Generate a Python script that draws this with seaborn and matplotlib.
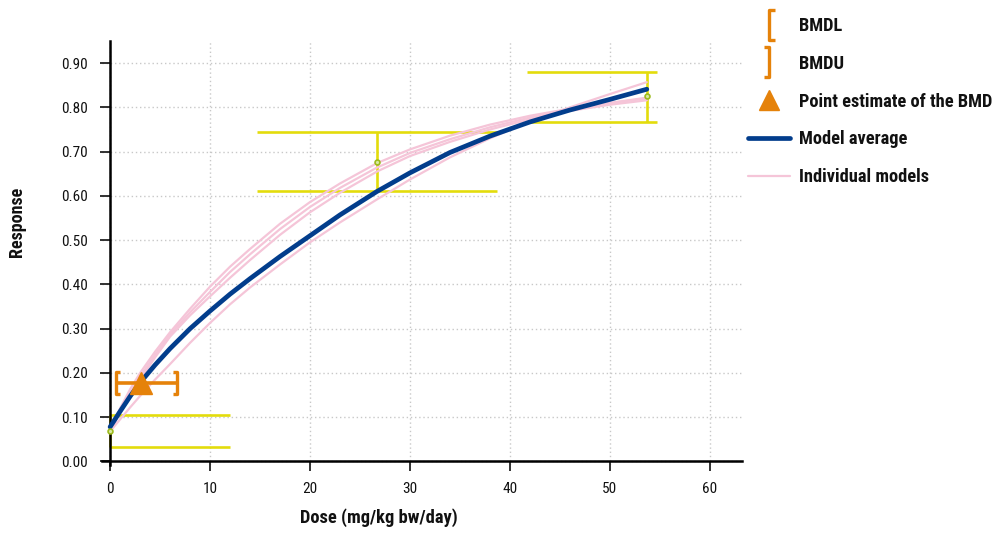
import numpy as np
import pandas as pd
import matplotlib
matplotlib.use("Agg")
import matplotlib.pyplot as plt
from matplotlib import font_manager
from matplotlib.lines import Line2D
from matplotlib.path import Path
import seaborn as sns

# ---- data -------------------------------------------------------------
dose_grid = [0, 1, 2, 3, 4.5, 6, 8, 10, 12, 14, 17, 20, 23, 26.7, 30, 34, 38, 42, 46, 50, 53.7]

model_average = [0.078, 0.113, 0.147, 0.178, 0.218, 0.255, 0.300, 0.340, 0.378, 0.413, 0.463,
                 0.510, 0.557, 0.610, 0.652, 0.698, 0.735, 0.767, 0.794, 0.818, 0.841]

model_a = [0.068, 0.120, 0.163, 0.200, 0.248, 0.292, 0.345, 0.395, 0.440, 0.480, 0.537,
           0.586, 0.628, 0.674, 0.705, 0.736, 0.761, 0.781, 0.797, 0.810, 0.820]
model_b = [0.065, 0.113, 0.155, 0.192, 0.241, 0.287, 0.337, 0.383, 0.428, 0.468, 0.525,
           0.575, 0.618, 0.664, 0.697, 0.728, 0.755, 0.777, 0.795, 0.810, 0.822]
model_c = [0.072, 0.112, 0.150, 0.185, 0.235, 0.282, 0.330, 0.373, 0.415, 0.455, 0.512,
           0.563, 0.607, 0.655, 0.690, 0.722, 0.750, 0.773, 0.792, 0.806, 0.816]
model_d = [0.068, 0.095, 0.122, 0.148, 0.185, 0.220, 0.268, 0.313, 0.355, 0.393, 0.445,
           0.495, 0.540, 0.592, 0.637, 0.687, 0.730, 0.768, 0.800, 0.830, 0.857]

obs_dose = [0, 26.7, 53.7]
obs_mean = [0.068, 0.676, 0.826]
obs_lower = [0.033, 0.611, 0.768]
obs_upper = [0.106, 0.744, 0.880]

bmd = 3.1
bmdl = 0.6
bmdu = 6.65
bmr_response = 0.177

x_ticks = [0, 10, 20, 30, 40, 50, 60]
y_ticks = [0.0, 0.1, 0.2, 0.3, 0.4, 0.5, 0.6, 0.7, 0.8, 0.9]

legend_labels = ["BMDL", "BMDU", "Point estimate of the BMD", "Model average", "Individual models"]

# ---- style --------------------------------------------------------------
sns.set_theme(style="white")

# prefer a narrow sans face when one is installed
installed = {f.name for f in font_manager.fontManager.ttflist}
narrow = [n for n in ("Roboto Condensed", "Liberation Sans Narrow", "Open Sans Condensed",
                      "Arial Narrow", "DejaVu Sans Condensed", "Noto Sans Condensed")
          if n in installed]
dejavu_cond = any(f.name == "DejaVu Sans" and "condensed" in str(f.stretch)
                  for f in font_manager.fontManager.ttflist)
if narrow:
    plt.rcParams["font.family"] = [narrow[0], "DejaVu Sans"]
elif dejavu_cond:
    plt.rcParams["font.family"] = ["DejaVu Sans"]
    plt.rcParams["font.stretch"] = "condensed"
else:
    plt.rcParams["font.family"] = ["Roboto", "DejaVu Sans"]

NAVY = "#023d8c"
PINK = "#f5c5d8"
ORANGE = "#e5820a"
YELLOW = "#e3dc0c"
GREEN = "#9cba1c"
TEXT = "#111111"

fig = plt.figure(figsize=(10.01, 5.33), dpi=100)
ax = fig.add_axes([0.102, 0.1276, 0.639, 0.7955])

# individual model fits
models = pd.DataFrame({
    "dose": dose_grid * 4,
    "response": model_a + model_b + model_c + model_d,
    "model": ["a"] * len(dose_grid) + ["b"] * len(dose_grid)
             + ["c"] * len(dose_grid) + ["d"] * len(dose_grid),
})
sns.lineplot(data=models, x="dose", y="response", units="model", estimator=None,
             color=PINK, linewidth=1.6, ax=ax, zorder=3, legend=False)

# model average
avg = pd.DataFrame({"dose": dose_grid, "response": model_average})
sns.lineplot(data=avg, x="dose", y="response", color=NAVY, linewidth=3.4,
             ax=ax, zorder=4, legend=False)

# observed group means with confidence bars
cap_half = 12
cap_lo, cap_hi = 0, 54.7
for d, lo, hi in zip(obs_dose, obs_lower, obs_upper):
    ax.vlines(d, lo, hi, color=YELLOW, linewidth=1.9, zorder=2)
    xl, xr = max(d - cap_half, cap_lo), min(d + cap_half, cap_hi)
    ax.hlines([lo, hi], xl, xr, color=YELLOW, linewidth=1.9, zorder=2)
ax.plot(obs_dose, obs_mean, linestyle="none", marker="o", markersize=3.5,
        markerfacecolor="#d8e8a0", markeredgecolor=GREEN, markeredgewidth=1.2, zorder=5)

# BMD interval with bracket ends
codes = [Path.MOVETO, Path.LINETO, Path.LINETO, Path.LINETO]
left_bracket = Path([(0.36, 1), (0, 1), (0, -1), (0.36, -1)], codes)
right_bracket = Path([(-0.36, 1), (0, 1), (0, -1), (-0.36, -1)], codes)

ax.hlines(bmr_response, bmdl, bmdu, color=ORANGE, linewidth=2.6, zorder=6)
ax.plot([bmdl], [bmr_response], linestyle="none", marker=left_bracket, markersize=16.5,
        markerfacecolor="none", markeredgecolor=ORANGE, markeredgewidth=2.4, zorder=6)
ax.plot([bmdu], [bmr_response], linestyle="none", marker=right_bracket, markersize=16.5,
        markerfacecolor="none", markeredgecolor=ORANGE, markeredgewidth=2.4, zorder=6)
ax.plot([bmd], [bmr_response], linestyle="none", marker="^", markersize=16.5,
        color=ORANGE, zorder=7)

# axes
ax.set_xlim(-0.8, 63.2)
ax.set_ylim(-0.008, 0.95)
ax.spines["left"].set_position(("data", 0))
ax.spines["bottom"].set_position(("data", 0))
for side in ("top", "right"):
    ax.spines[side].set_visible(False)
for side in ("left", "bottom"):
    ax.spines[side].set_color("black")
    ax.spines[side].set_linewidth(1.8)

ax.set_xticks(x_ticks)
ax.set_yticks(y_ticks)
ax.set_yticklabels([f"{v:.2f}" for v in y_ticks])
ax.tick_params(axis="both", direction="out", length=7, width=1.3, color="#222222",
               labelsize=11, labelcolor=TEXT, left=True, bottom=True)
ax.tick_params(axis="y", pad=9)
ax.tick_params(axis="x", pad=7.5)

ax.grid(True, linestyle=(0, (1, 2)), color="#c8c8c8", linewidth=1.0)
ax.set_axisbelow(True)

ax.set_xlabel("Dose (mg/kg bw/day)", fontsize=13.3, fontweight="bold", color=TEXT)
ax.set_ylabel("Response", fontsize=13, fontweight="bold", color=TEXT)
ax.xaxis.set_label_coords(0.433, -0.103)
ax.yaxis.set_label_coords(-0.119, 0.573)

# legend
handles = [
    Line2D([], [], linestyle="none", marker=left_bracket, markersize=22,
           markerfacecolor="none", markeredgecolor=ORANGE, markeredgewidth=2.4),
    Line2D([], [], linestyle="none", marker=right_bracket, markersize=22,
           markerfacecolor="none", markeredgecolor=ORANGE, markeredgewidth=2.4),
    Line2D([], [], linestyle="none", marker="^", markersize=15, color=ORANGE),
    Line2D([], [], color=NAVY, linewidth=3.4),
    Line2D([], [], color=PINK, linewidth=1.6),
]
fig.legend(handles, legend_labels, loc="upper left", bbox_to_anchor=(0.734, 0.992),
           frameon=False, prop={"size": 13.2, "weight": "bold"}, labelcolor=TEXT,
           handlelength=2.3, handletextpad=0.5, labelspacing=1.08, borderaxespad=0.3)

fig.savefig("out.png", dpi=100)
